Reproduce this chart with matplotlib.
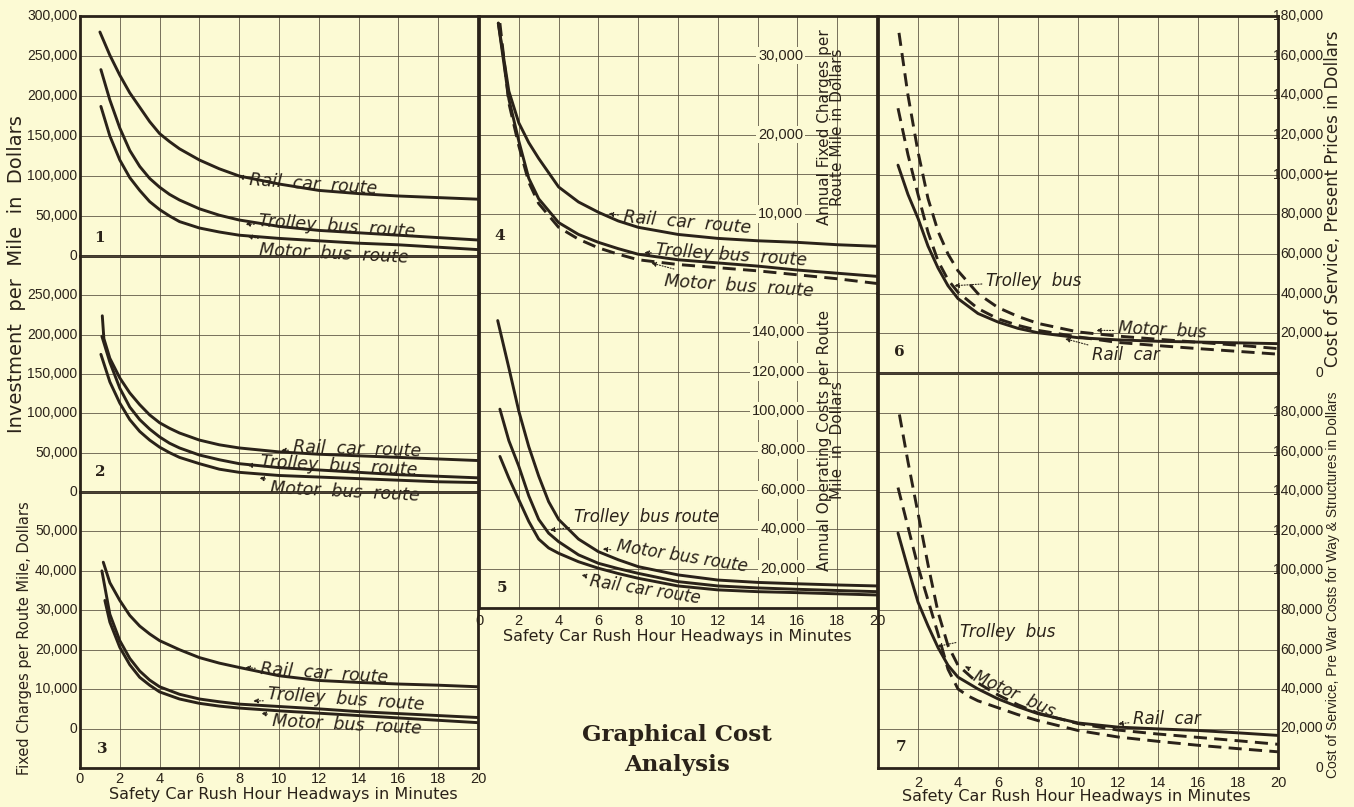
import matplotlib
matplotlib.use("Agg")
import matplotlib.pyplot as plt
from matplotlib.transforms import blended_transform_factory as btf

# ---------------- data (values in thousands of dollars) ----------------
# Panel 1: investment per mile
p1_rail_x = [1.0, 1.5, 2, 2.5, 3, 3.5, 4, 4.5, 5, 6, 7, 8, 10, 12, 14, 16, 18, 20]
p1_rail_y = [280, 251, 226, 204, 186, 168, 153, 143, 134, 120, 109, 100, 90, 82, 78, 75, 73, 71]
p1_trol_x = [1.05, 1.5, 2, 2.5, 3, 3.5, 4, 4.5, 5, 6, 7, 8, 10, 12, 14, 16, 18, 20]
p1_trol_y = [233, 195, 160, 132, 112, 97, 86, 77, 70, 59, 51, 45, 37, 32, 29, 26, 23, 20]
p1_motr_x = [1.05, 1.5, 2, 2.5, 3, 3.5, 4, 4.5, 5, 6, 7, 8, 10, 12, 14, 16, 18, 20]
p1_motr_y = [187, 150, 120, 98, 82, 68, 58, 50, 43, 35, 30, 26, 22, 19, 16, 14, 11, 8]

# Panel 2: investment per mile
p2_rail_x = [1.12, 1.2, 1.5, 2, 2.5, 3, 3.5, 4, 4.5, 5, 6, 7, 8, 10, 12, 14, 16, 18, 20]
p2_rail_y = [224, 195, 170, 145, 126, 111, 98, 88, 81, 75, 66, 60, 56, 51, 48, 46, 44, 42, 40]
p2_trol_x = [1.1, 1.5, 2, 2.5, 3, 3.5, 4, 4.5, 5, 6, 7, 8, 10, 12, 14, 16, 18, 20]
p2_trol_y = [198, 165, 132, 108, 92, 80, 70, 62, 56, 47, 41, 36, 31, 28, 25, 22, 20, 18]
p2_motr_x = [1.05, 1.5, 2, 2.5, 3, 3.5, 4, 4.5, 5, 6, 7, 8, 10, 12, 14, 16, 18, 20]
p2_motr_y = [175, 140, 113, 92, 77, 66, 57, 50, 44, 36, 29, 25, 21, 19, 17, 15, 13, 12]

# Panel 3: fixed charges per route mile
p3_rail_x = [1.17, 1.5, 2, 2.5, 3, 3.5, 4, 5, 6, 7, 8, 10, 12, 14, 16, 18, 20]
p3_rail_y = [42.2, 37, 32.5, 28.7, 26, 24, 22.3, 20, 18, 16.6, 15.5, 13.4, 12.2, 11.7, 11.3, 11, 10.6]
p3_trol_x = [1.1, 1.5, 2, 2.5, 3, 3.5, 4, 5, 6, 7, 8, 10, 12, 14, 16, 18, 20]
p3_trol_y = [40, 29, 22.3, 17.8, 14.6, 12.3, 10.6, 8.7, 7.5, 6.8, 6.2, 5.6, 5.0, 4.3, 3.8, 3.3, 2.8]
p3_motr_x = [1.25, 1.5, 2, 2.5, 3, 3.5, 4, 5, 6, 7, 8, 10, 12, 14, 16, 18, 20]
p3_motr_y = [32.5, 27, 20.6, 16.2, 13, 11, 9.3, 7.5, 6.4, 5.7, 5.2, 4.5, 3.9, 3.3, 2.7, 2.1, 1.5]

# Panel 4: annual fixed charges per route mile
p4_rail_x = [0.97, 1.5, 2, 2.5, 3, 4, 5, 6, 7, 8, 10, 12, 14, 16, 18, 20]
p4_rail_y = [34.1, 25.5, 21.5, 19, 17, 13.4, 11.5, 10.2, 9.1, 8.3, 7.4, 6.9, 6.6, 6.4, 6.1, 5.9]
p4_trol_x = [0.97, 1.5, 2, 2.5, 3, 4, 5, 6, 7, 8, 10, 12, 14, 16, 18, 20]
p4_trol_y = [34.1, 24.5, 19.2, 14.5, 11.9, 8.9, 7.4, 6.4, 5.6, 4.9, 4.2, 3.8, 3.4, 2.9, 2.5, 2.1]
p4_motr_x = [1.05, 1.5, 2, 2.5, 3, 4, 5, 6, 7, 8, 10, 12, 14, 16, 18, 20]
p4_motr_y = [34.1, 24, 18.6, 14, 11.3, 8.3, 6.8, 5.7, 4.9, 4.2, 3.6, 3.2, 2.8, 2.3, 1.8, 1.2]

# Panel 5: annual operating costs per route mile
p5_motr_x = [0.94, 1.5, 2, 2.5, 3, 3.5, 4, 5, 6, 7, 8, 10, 12, 14, 16, 18, 20]
p5_motr_y = [146, 122, 100, 82, 67, 54, 45, 35, 28.6, 24.5, 21, 16.8, 14.2, 13, 12.3, 11.7, 11.2]
p5_trol_x = [1.05, 1.5, 2, 2.5, 3, 3.5, 4, 5, 6, 7, 8, 10, 12, 14, 16, 18, 20]
p5_trol_y = [101, 85, 72, 57, 45, 38, 33.7, 27, 22.7, 20, 17.6, 13.4, 11.2, 10.2, 9.5, 8.9, 8.3]
p5_rail_x = [1.05, 1.5, 2, 2.5, 3, 3.5, 4, 5, 6, 7, 8, 10, 12, 14, 16, 18, 20]
p5_rail_y = [77, 66, 55, 44, 35, 30.5, 27.8, 23.5, 20.2, 17.5, 15.1, 11.2, 9.2, 8.3, 7.8, 7.2, 6.6]

# Panel 6: cost of service, present prices
p6_motr_x = [1.05, 1.5, 2, 2.5, 3, 3.5, 4, 5, 6, 7, 8, 10, 12, 14, 16, 18, 20]
p6_motr_y = [171.5, 140, 111.5, 88, 71.5, 60, 51.5, 40, 33, 28.5, 25, 20.7, 18.6, 17, 15.5, 14, 12.3]
p6_trol_x = [1.0, 1.5, 2, 2.5, 3, 3.5, 4, 5, 6, 7, 8, 10, 12, 14, 16, 18, 20]
p6_trol_y = [133.5, 110, 90, 71, 56.5, 47, 40.7, 32.5, 27.3, 24, 21.5, 18.2, 15.4, 13.8, 12.3, 10.9, 9.5]
p6_rail_x = [1.0, 1.5, 2, 2.5, 3, 3.5, 4, 5, 6, 7, 8, 10, 12, 14, 16, 18, 20]
p6_rail_y = [104.8, 90, 78, 64, 53, 44, 37.5, 30, 25.7, 22.5, 20.3, 17.8, 16.7, 16, 15.6, 15.2, 14.8]

# Panel 7: cost of service, pre-war costs for way & structures
p7_motr_x = [1.07, 1.5, 2, 2.5, 3, 3.5, 4, 5, 6, 7, 8, 10, 12, 14, 16, 18, 20]
p7_motr_y = [179, 155, 129, 103, 79, 62, 52, 43, 37, 32, 27.8, 22.5, 19.2, 17.2, 15.5, 13.8, 12]
p7_trol_x = [1.0, 1.5, 2, 2.5, 3, 3.5, 4, 4.5, 5, 6, 7, 8, 10, 12, 14, 16, 18, 20]
p7_trol_y = [142, 122, 102, 85, 68, 50, 40, 36.5, 34, 30.5, 27, 24, 19, 15.7, 13.5, 11.5, 9.8, 8.2]
p7_rail_x = [1.0, 1.5, 2, 2.5, 3, 3.5, 4, 5, 6, 7, 8, 10, 12, 14, 16, 18, 20]
p7_rail_y = [119, 101, 84, 72, 61, 52, 46, 40, 35, 31, 27.5, 22.8, 20.7, 19.8, 19, 17.8, 16.5]

x_ticks = list(range(0, 21, 2))
x_ticklabels = [str(v) for v in x_ticks]

# ---------------- styling ----------------
W, H = 1354, 807
BG = "#FCFAD4"
INK = "#2A2219"
GRID = "#554C3C"
NUMF = "Liberation Sans"
LBL_FONT = dict(family="DejaVu Sans", style="italic", color=INK)

plt.rcParams["font.family"] = ["DejaVu Sans"]
fig = plt.figure(figsize=(W / 100, H / 100), dpi=100, facecolor=BG)


def add_panel(l, t, r, b, ymin, ymax, ystep, spines):
    ax = fig.add_axes([l / W, 1 - b / H, (r - l) / W, (b - t) / H])
    ax.set_facecolor(BG)
    ax.patch.set_alpha(0)
    ax.set_xlim(0, 20)
    ax.set_ylim(ymin, ymax)
    ax.set_xticks(x_ticks)
    n = int(round((ymax - ymin) / ystep))
    ax.set_yticks([ymin + i * ystep for i in range(n + 1)])
    ax.grid(True, color=GRID, lw=0.7, alpha=0.8)
    ax.tick_params(length=0, labelbottom=False, labelleft=False,
                   labelsize=10, colors=INK)
    for side in ["left", "right", "top", "bottom"]:
        sp = ax.spines[side]
        if side in spines:
            sp.set_linewidth(2.0)
            sp.set_color(INK)
        else:
            sp.set_visible(False)
    return ax


def curve(ax, xs, ys, dashed=False):
    ax.plot(xs, ys, color=INK, lw=2.1, ls=(0, (4.5, 2.5)) if dashed else "-",
            solid_capstyle="round", solid_joinstyle="round", zorder=3)


def label(ax, text, tip, pos, rot=-4, size=12.5):
    ax.annotate(text, xy=tip, xytext=pos, rotation=rot, rotation_mode="anchor",
                ha="left", va="center", fontsize=size, **LBL_FONT,
                arrowprops=dict(arrowstyle="-|>", color=INK, lw=0.8,
                                ls=(0, (1, 1.5)), mutation_scale=7,
                                shrinkA=1, shrinkB=0), zorder=4)


def number(ax, x, y, s):
    ax.text(x, y, s, family="DejaVu Serif", fontweight="bold", fontsize=11,
            color=INK, ha="center", va="center")


def left_ylabels(ax, vals):
    tr = btf(ax.transAxes, ax.transData)
    for v in vals:
        ax.text(-0.006, v, f"{v * 1000:,.0f}", transform=tr, ha="right", va="center",
                fontsize=10, family=NUMF, color=INK)


def inner_ylabels(ax, vals, xpos):
    for v in vals:
        ax.text(xpos, v, f"{v * 1000:,.0f}", ha="right", va="center", fontsize=10.5,
                family=NUMF, color=INK, zorder=5,
                bbox=dict(boxstyle="square,pad=0.12", fc=BG, ec="none"))


def right_ylabels(ax, vals):
    tr = btf(ax.transAxes, ax.transData)
    for v in vals:
        ax.text(1.112, v, f"{v * 1000:,.0f}", transform=tr, ha="right", va="center",
                fontsize=10, family=NUMF, color=INK)


def xticklabels_on(ax, labels, pad):
    ax.set_xticklabels(labels)
    ax.tick_params(labelbottom=True, pad=pad, labelsize=10.5)
    for t in ax.get_xticklabels():
        t.set_family(NUMF)


# ---------------- left column ----------------
ax1 = add_panel(80, 16, 478, 256, 0, 300, 50, ["left", "right", "top", "bottom"])
curve(ax1, p1_rail_x, p1_rail_y)
curve(ax1, p1_trol_x, p1_trol_y)
curve(ax1, p1_motr_x, p1_motr_y)
left_ylabels(ax1, [0, 50, 100, 150, 200, 250, 300])
label(ax1, "Rail  car  route", (7.95, 99), (8.5, 95), rot=-4)
label(ax1, "Trolley  bus  route", (8.3, 40), (9.0, 44), rot=-4)
label(ax1, "Motor  bus  route", (8.4, 25), (9.0, 7), rot=-3)
number(ax1, 1.0, 22, "1")

ax2 = add_panel(80, 256, 478, 492, 0, 300, 50, ["left", "right", "bottom"])
curve(ax2, p2_rail_x, p2_rail_y)
curve(ax2, p2_trol_x, p2_trol_y)
curve(ax2, p2_motr_x, p2_motr_y)
left_ylabels(ax2, [0, 50, 100, 150, 200, 250])
label(ax2, "Rail  car  route", (10.1, 53), (10.7, 57), rot=-2)
label(ax2, "Trolley  bus  route", (8.4, 34), (9.05, 38), rot=-3)
label(ax2, "Motor  bus  route", (9.0, 18), (9.55, 5), rot=-3)
number(ax2, 1.0, 25, "2")

ax3 = add_panel(80, 492, 478, 768, -10, 60, 10, ["left", "right", "bottom"])
curve(ax3, p3_rail_x, p3_rail_y)
curve(ax3, p3_trol_x, p3_trol_y)
curve(ax3, p3_motr_x, p3_motr_y)
left_ylabels(ax3, [0, 10, 20, 30, 40, 50])
label(ax3, "Rail  car  route", (8.3, 15.5), (9.05, 15.0), rot=-4)
label(ax3, "Trolley  bus  route", (8.7, 7.0), (9.45, 8.8), rot=-4)
label(ax3, "Motor  bus  route", (9.1, 3.9), (9.65, 1.8), rot=-3)
number(ax3, 1.1, -5.3, "3")
xticklabels_on(ax3, x_ticklabels, 3)

# ---------------- middle column ----------------
ax4 = add_panel(479, 16, 877, 293, 0, 35, 5, ["left", "right", "top"])
curve(ax4, p4_rail_x, p4_rail_y)
curve(ax4, p4_trol_x, p4_trol_y)
curve(ax4, p4_motr_x, p4_motr_y, dashed=True)
inner_ylabels(ax4, [10, 20, 30], 16.3)
label(ax4, "Rail  car  route", (6.5, 10.0), (7.25, 9.6), rot=-5)
label(ax4, "Trolley bus  route", (8.3, 5.1), (8.9, 5.4), rot=-4)
label(ax4, "Motor  bus  route", (8.65, 3.8), (9.3, 1.5), rot=-4)
number(ax4, 1.05, 7.2, "4")

ax5 = add_panel(479, 293, 877, 608, 0, 160, 20, ["left", "right", "bottom"])
curve(ax5, p5_motr_x, p5_motr_y)
curve(ax5, p5_trol_x, p5_trol_y)
curve(ax5, p5_rail_x, p5_rail_y)
inner_ylabels(ax5, [20, 40, 60, 80, 100, 120, 140], 16.4)
label(ax5, "Trolley  bus route", (3.55, 39.5), (4.75, 46), rot=0, size=12)
label(ax5, "Motor bus route", (6.2, 30), (6.9, 31.5), rot=-9, size=12)
label(ax5, "Rail car route", (5.15, 16.8), (5.55, 13.5), rot=-9, size=12)
number(ax5, 1.14, 10, "5")
xticklabels_on(ax5, x_ticklabels, 4)

# ---------------- right column ----------------
ax6 = add_panel(878, 16, 1278, 373, 0, 180, 20, ["left", "right", "top", "bottom"])
curve(ax6, p6_motr_x, p6_motr_y, dashed=True)
curve(ax6, p6_trol_x, p6_trol_y, dashed=True)
curve(ax6, p6_rail_x, p6_rail_y)
right_ylabels(ax6, [0, 20, 40, 60, 80, 100, 120, 140, 160, 180])
label(ax6, "Trolley  bus", (3.8, 44), (5.4, 46.5), rot=0, size=12)
label(ax6, "Motor  bus", (10.9, 21.5), (12.0, 22.5), rot=-3, size=12)
label(ax6, "Rail  car", (9.35, 17.3), (10.7, 9.0), rot=0, size=12)
number(ax6, 1.07, 10.7, "6")

ax7 = add_panel(878, 373, 1278, 768, 0, 200, 20, ["left", "right", "bottom"])
curve(ax7, p7_motr_x, p7_motr_y, dashed=True)
curve(ax7, p7_trol_x, p7_trol_y, dashed=True)
curve(ax7, p7_rail_x, p7_rail_y)
right_ylabels(ax7, [0, 20, 40, 60, 80, 100, 120, 140, 160, 180])
label(ax7, "Trolley  bus", (2.95, 61.5), (4.1, 69), rot=0, size=12)
label(ax7, "Motor  bus", (4.35, 51.5), (4.8, 47), rot=-25, size=12)
label(ax7, "Rail  car", (12.0, 22.3), (12.75, 25), rot=0, size=12)
number(ax7, 1.13, 10.7, "7")
xticklabels_on(ax7, [""] + x_ticklabels[1:], 6)


# ---------------- axis titles ----------------
def ftext(x, y, s, **kw):
    fig.text(x / W, 1 - y / H, s, color=INK, ha="center", va="center", **kw)


XL = "Safety Car Rush Hour Headways in Minutes"
ftext(283, 795, XL, fontsize=11.5)
ftext(677, 636, XL, fontsize=11.5)
ftext(1076, 797, XL, fontsize=11.5)

ftext(17, 274, "Investment  per  Mile  in  Dollars", fontsize=14, rotation=90)
ftext(25, 638, "Fixed Charges per Route Mile, Dollars", fontsize=10.5, rotation=90)
ftext(831, 127, "Annual Fixed Charges per\nRoute Mile in Dollars", fontsize=11,
      rotation=90, linespacing=0.9)
ftext(831, 440, "Annual Operating Costs per Route\nMile  in  Dollars", fontsize=11,
      rotation=90, linespacing=0.9)
ftext(1333, 199, "Cost of Service, Present Prices in Dollars", fontsize=12, rotation=90)
ftext(1333, 585, "Cost of Service, Pre War Costs for Way & Structures in Dollars",
      fontsize=10, rotation=90, family="Liberation Sans")

ftext(677, 750, "Graphical Cost\nAnalysis", fontsize=16.5, family="DejaVu Serif",
      fontweight="bold", linespacing=1.45)

fig.savefig("out.png", dpi=100, facecolor=BG)
